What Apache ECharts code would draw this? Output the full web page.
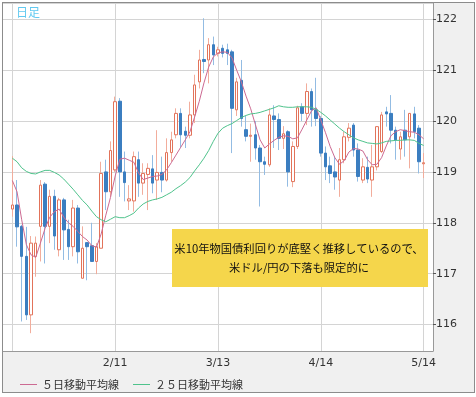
<!DOCTYPE html>
<html>
<head>
<meta charset="utf-8">
<script src="https://cdn.jsdelivr.net/npm/echarts@6/dist/echarts.min.js"></script>
<style>
html,body{margin:0;padding:0;background:#fff;}
#frame{position:absolute;left:2px;top:2px;width:471px;height:389px;border:1px solid #8c8c8c;background:#f0f0f0;}
#chart{position:absolute;left:0;top:0;width:476px;height:397px;}
</style>
</head>
<body>
<div id="frame"></div>
<div id="chart"></div>
<script>
// weekdays on the axis (1/8 .. 5/18), data starts at 1/12
const dates = ('1/8 1/9 1/12 1/13 1/14 1/15 1/16 1/19 1/20 1/21 1/22 1/23 1/26 1/27 1/28 1/29 1/30 ' +
  '2/2 2/3 2/4 2/5 2/6 2/9 2/10 2/11 2/12 2/13 2/16 2/17 2/18 2/19 2/20 2/23 2/24 2/25 2/26 2/27 ' +
  '3/2 3/3 3/4 3/5 3/6 3/9 3/10 3/11 3/12 3/13 3/16 3/17 3/18 3/19 3/20 3/23 3/24 3/25 3/26 3/27 3/30 3/31 ' +
  '4/1 4/2 4/3 4/6 4/7 4/8 4/9 4/10 4/13 4/14 4/15 4/16 4/17 4/20 4/21 4/22 4/23 4/24 4/27 4/28 4/29 4/30 ' +
  '5/1 5/4 5/5 5/6 5/7 5/8 5/11 5/12 5/13 5/14 5/15 5/18').split(' ');
const labelDates = ['2/11', '3/13', '4/14', '5/14'];
const gridDates = ['1/12', '2/11', '3/13', '4/14', '5/14'];
const lead = 2; // 1/8, 1/9 have no data

const open = [118.27,118.35,117.93,117.34,116.19,117.34,117.93,118.76,117.93,118.52,
  117.47,118.45,117.87,117.53,118.29,116.91,117.61,117.55,117.24,117.5,
  119.0,118.61,119.04,120.39,119.0,118.43,118.43,119.24,118.78,118.95,
  119.06,118.84,118.99,118.84,119.38,119.73,120.15,119.8,119.72,120.12,
  120.77,121.21,121.2,121.5,121.33,121.43,121.4,121.36,120.22,120.8,
  119.83,119.7,119.73,119.47,119.2,119.14,120.1,120.03,119.66,119.79,
  118.81,119.5,120.28,120.15,120.58,120.22,120.05,119.37,119.12,119.0,
  118.84,119.24,119.68,119.92,119.43,118.84,119.09,118.84,119.1,119.4,
  120.18,120.15,119.82,119.45,119.82,119.69,120.14,119.86,119.16];
const close = [118.35,117.92,117.34,116.19,117.6,117.6,118.74,117.93,118.52,117.74,
  118.45,117.86,117.53,118.29,117.43,117.5,117.53,117.24,117.53,118.97,
  118.61,119.42,120.38,119.0,118.79,118.47,119.3,118.78,118.97,119.07,
  118.78,118.99,118.84,119.38,119.63,120.15,119.73,119.72,120.12,120.71,
  121.2,121.17,121.5,121.3,121.4,121.33,121.33,120.25,120.77,120.05,
  119.7,119.72,119.47,119.2,119.15,120.12,120.03,119.66,119.75,119.0,
  119.5,120.26,120.15,120.58,120.22,120.05,119.37,119.1,118.97,118.9,
  119.24,119.69,119.86,119.43,118.91,119.1,118.86,119.1,119.89,120.12,
  120.14,119.82,119.63,119.69,119.63,120.15,119.79,119.2,119.18];
const low = [118.12,117.53,116.06,116.09,115.83,116.94,117.24,117.2,117.6,117.47,
  117.34,117.27,117.27,117.34,117.2,116.91,116.87,117.24,116.99,117.5,
  118.25,118.51,119.0,118.51,118.42,118.25,118.22,118.51,118.55,118.25,
  118.58,118.45,118.6,118.81,119.2,119.66,119.47,119.47,119.66,119.96,
  120.64,120.94,120.74,121.1,121.27,121.25,121.1,119.37,120.1,119.89,
  119.6,119.2,119.24,118.32,118.94,119.1,119.47,119.43,119.45,118.71,
  118.7,119.45,120.0,119.92,119.89,119.9,119.3,118.84,118.78,118.65,
  118.51,119.17,119.6,119.3,118.81,118.78,118.78,118.51,119.03,119.37,
  119.89,119.56,119.24,119.24,119.3,119.07,119.66,118.97,118.88];
const high = [119.31,118.84,117.96,117.92,117.74,117.73,118.84,118.8,118.65,118.65,
  118.49,118.49,118.06,118.45,118.35,117.93,117.61,118.0,117.6,119.2,
  119.24,119.6,120.48,120.45,119.4,118.74,119.4,119.4,119.17,119.17,
  119.33,119.82,119.3,119.66,119.79,120.25,120.25,119.89,120.38,120.91,
  121.4,122.02,121.63,121.66,121.46,121.5,121.52,121.4,120.85,121.2,
  120.1,119.95,120.0,119.53,119.3,120.25,120.31,120.15,119.9,119.82,
  119.6,120.3,120.35,120.74,120.64,120.85,120.1,119.5,119.3,119.3,
  119.47,119.79,119.96,119.96,119.56,119.27,119.3,119.53,119.89,120.18,
  120.28,120.51,119.89,119.79,120.22,120.15,120.28,119.92,119.37];
const ma5 = [118.83,118.61,118.06,117.57,117.37,117.32,117.6,117.89,118.11,118.22,
  118.27,118.11,118.0,117.93,117.83,117.73,117.66,117.55,117.52,117.78,
  118.15,118.5,118.92,119.25,119.27,119.23,119.19,118.98,118.85,118.88,
  118.91,118.92,118.95,119.04,119.18,119.33,119.48,119.63,119.79,120.08,
  120.39,120.75,121.06,121.26,121.34,121.36,121.35,121.24,121.0,120.77,
  120.49,120.24,119.93,119.63,119.47,119.55,119.62,119.68,119.71,119.7,
  119.65,119.67,119.84,120.02,120.2,120.26,120.02,119.77,119.5,119.28,
  119.15,119.22,119.39,119.46,119.45,119.41,119.24,119.14,119.15,119.28,
  119.51,119.71,119.79,119.83,119.81,119.79,119.78,119.73,119.65];
const ma25 = [119.27,119.2,119.08,119.01,118.97,118.96,119.0,119.03,119.03,118.99,
  118.94,118.86,118.76,118.66,118.55,118.44,118.35,118.23,118.12,118.06,
  118.02,118.07,118.12,118.1,118.1,118.14,118.19,118.29,118.37,118.42,
  118.45,118.47,118.5,118.55,118.6,118.67,118.73,118.8,118.89,119.02,
  119.14,119.27,119.42,119.6,119.76,119.86,119.91,119.95,120.01,120.07,
  120.11,120.14,120.15,120.17,120.2,120.23,120.26,120.3,120.28,120.27,
  120.27,120.28,120.28,120.28,120.27,120.23,120.17,120.1,120.02,119.94,
  119.86,119.79,119.73,119.67,119.63,119.6,119.57,119.56,119.55,119.57,
  119.6,119.61,119.62,119.62,119.63,119.63,119.62,119.56,119.52];

const pad = new Array(lead).fill('-');
const full = pad.concat(open.map((o, i) => [o, close[i], low[i], high[i]]));
const body = pad.concat(open.map((o, i) => [o, close[i], Math.min(o, close[i]), Math.max(o, close[i])]));

const font = '"DejaVu Sans", sans-serif';
const jp = '"Noto Sans CJK JP", sans-serif';

let mychart = echarts.init(document.getElementById('chart'));
mychart.setOption({
  animation: false,
  backgroundColor: 'transparent',
  grid: {
    left: 3, top: 3, right: 43, bottom: 46,
    show: true, backgroundColor: '#fff', borderWidth: 0
  },
  legend: {
    data: [
      { name: '５日移動平均線', icon: 'rect' },
      { name: '２５日移動平均線', icon: 'rect' }
    ],
    left: 15, top: 374,
    itemWidth: 17, itemHeight: 1, itemGap: 14,
    textStyle: { color: '#333', fontSize: 11, fontFamily: jp }
  },
  xAxis: {
    type: 'category',
    data: dates,
    boundaryGap: false,
    axisLine: { lineStyle: { color: '#999' } },
    axisTick: { show: false },
    axisLabel: {
      interval: (idx, val) => labelDates.includes(val),
      color: '#333', fontSize: 11, fontFamily: font, margin: 7
    },
    splitLine: {
      show: true,
      interval: (idx, val) => gridDates.includes(val),
      lineStyle: { color: '#d4d4d4' }
    }
  },
  yAxis: {
    type: 'value',
    position: 'right',
    min: 115.48,
    max: 122.32,
    minInterval: 1,
    maxInterval: 1,
    axisLine: { show: true, lineStyle: { color: '#999' } },
    axisTick: { show: true, inside: false, length: 3, lineStyle: { color: '#555' } },
    axisLabel: {
      showMinLabel: false, showMaxLabel: false,
      color: '#333', fontSize: 11, fontFamily: font, margin: 3
    },
    splitLine: { lineStyle: { color: '#d4d4d4' } }
  },
  graphic: [
    {
      type: 'text', left: 16, top: 6, z: 100,
      style: { text: '日足', fill: '#62c9f0', font: '12px ' + jp }
    },
    {
      type: 'rect', z: 100,
      shape: { x: 172, y: 229, width: 256, height: 58 },
      style: { fill: '#f5d64b' }
    },
    {
      type: 'text', x: 299, y: 258, z: 101,
      style: {
        text: '米10年物国債利回りが底堅く推移しているので、\n米ドル/円の下落も限定的に',
        align: 'center', verticalAlign: 'middle',
        fill: '#111', font: '11.3px ' + jp, lineHeight: 19
      }
    }
  ],
  series: [
    {
      name: 'wick',
      type: 'candlestick',
      data: full,
      barWidth: 1,
      itemStyle: {
        color: '#f2ad9c', color0: '#93bce3',
        borderColor: '#f2ad9c', borderColor0: '#93bce3', borderWidth: 1
      }
    },
    {
      name: 'body',
      type: 'candlestick',
      data: body,
      barWidth: 3,
      itemStyle: {
        color: '#fff', color0: '#3b7ec0',
        borderColor: '#e2735a', borderColor0: '#3b7ec0', borderWidth: 1
      }
    },
    {
      name: '５日移動平均線',
      type: 'line',
      data: pad.concat(ma5),
      symbol: 'none',
      lineStyle: { color: '#cc6a92', width: 1 },
      itemStyle: { color: '#cc6a92' }
    },
    {
      name: '２５日移動平均線',
      type: 'line',
      data: pad.concat(ma25),
      symbol: 'none',
      lineStyle: { color: '#4fc38c', width: 1 },
      itemStyle: { color: '#4fc38c' }
    }
  ]
});
</script>
</body>
</html>
